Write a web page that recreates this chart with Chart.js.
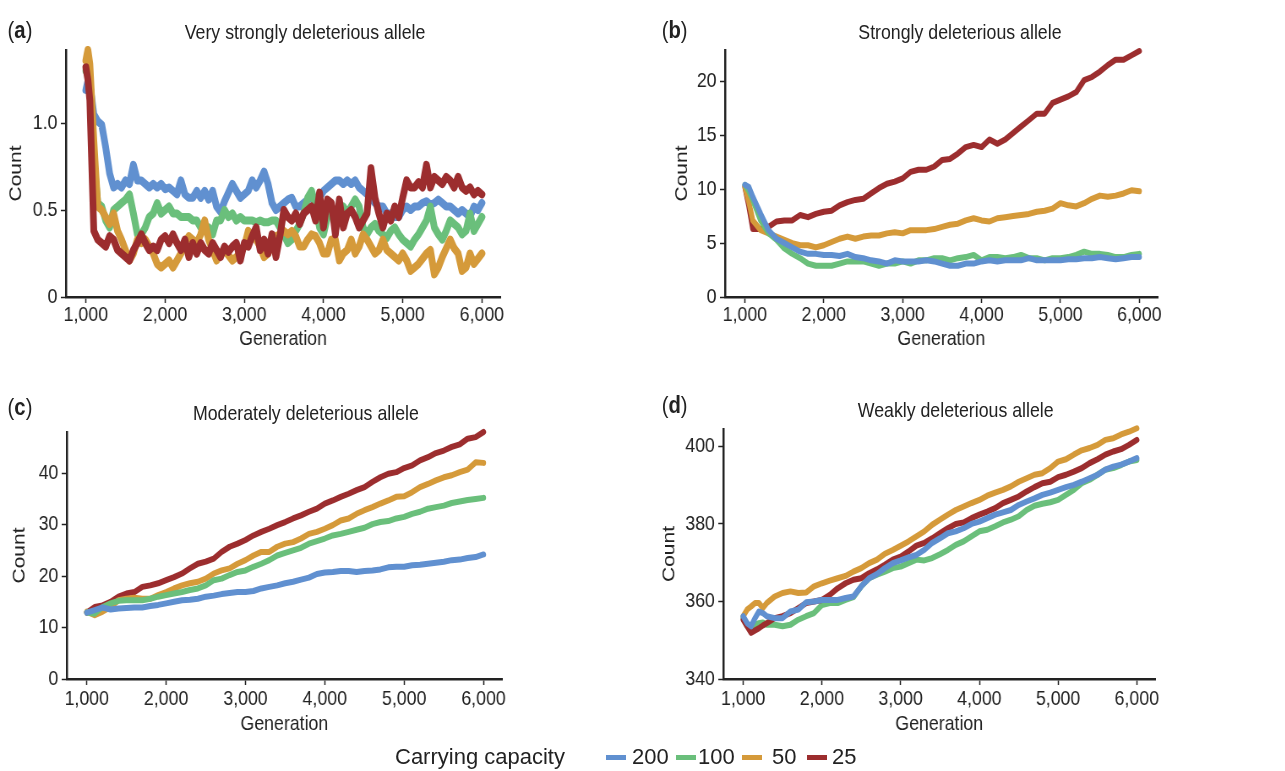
<!DOCTYPE html>
<html>
<head>
<meta charset="utf-8">
<script src="https://cdn.jsdelivr.net/npm/chart.js@4.4.1/dist/chart.umd.min.js"></script>
<style>
  body { margin:0; background:#fff; width:1285px; height:771px; position:relative; overflow:hidden; color:#222;
         font-family:'Liberation Sans',Arial,sans-serif; }
  /* the published figure is squeezed horizontally; reproduce that with one transform */
  .fig { position:absolute; left:0; top:0; width:1521px; height:771px; transform:scaleX(0.845); transform-origin:0 0; }
  .panel { position:absolute; }
  .title { position:absolute; font-size:21px; line-height:1; white-space:nowrap; transform:translate(-50%,-50%); }
  .tag { position:absolute; font-size:24px; line-height:1; transform:translateY(-50%); }
  .tag b { font-weight:bold; }
  .lg { position:absolute; font-size:22px; line-height:1; top:757px; transform:translateY(-50%); white-space:nowrap; }
  .sw { position:absolute; top:755px; height:5px; width:20px; }
</style>
</head>
<body>
<div class="fig">
  <div class="tag" style="left:9px;top:30px">(<b>a</b>)</div>
  <div class="tag" style="left:783px;top:30px">(<b>b</b>)</div>
  <div class="tag" style="left:9px;top:407px">(<b>c</b>)</div>
  <div class="tag" style="left:783px;top:405px">(<b>d</b>)</div>
  <div class="title" style="left:361px;top:31px">Very strongly deleterious allele</div>
  <div class="title" style="left:1136px;top:31px">Strongly deleterious allele</div>
  <div class="title" style="left:362px;top:412px">Moderately deleterious allele</div>
  <div class="title" style="left:1131px;top:409px">Weakly deleterious allele</div>

  <div class="panel" style="left:3px;top:30px;width:619px;height:326px"><canvas id="pa"></canvas></div>
  <div class="panel" style="left:791px;top:30px;width:609px;height:326px"><canvas id="pb"></canvas></div>
  <div class="panel" style="left:7px;top:412px;width:617px;height:329px"><canvas id="pc"></canvas></div>
  <div class="panel" style="left:776px;top:409px;width:621px;height:332px"><canvas id="pd"></canvas></div>
</div>

<div id="legend"></div>

<script>
// ---- data ----
const capacities = ['200', '100', '50', '25'];
const colors = ['#6090d0', '#6abf7b', '#d59a3a', '#9c2d2e'];
const genTicks = [1000, 2000, 3000, 4000, 5000, 6000];

// (a) very strongly deleterious
const genA = [1000,1025,1050,1100,1150,1200,1250,1300,1350,1400,1450,1500,1550,1600,1650,1700,1750,1800,1850,1900,1950,
  2000,2050,2100,2150,2200,2250,2300,2350,2400,2450,2500,2550,2600,2650,2700,2750,2800,2850,2900,2950,
  3000,3050,3100,3150,3200,3250,3300,3350,3400,3450,3500,3550,3600,3650,3700,3750,3800,3850,3900,3950,
  4000,4050,4100,4150,4200,4250,4300,4350,4400,4450,4500,4550,4600,4650,4700,4750,4800,4850,4900,4950,
  5000,5050,5100,5150,5200,5250,5300,5350,5400,5450,5500,5550,5600,5650,5700,5750,5800,5850,5900,5950,6000];
const a200 = [1.19,1.24,1.23,1.05,1.01,0.99,0.86,0.71,0.63,0.65,0.63,0.67,0.65,0.76,0.67,0.67,0.65,0.63,0.65,0.63,0.65,
  0.62,0.63,0.61,0.59,0.67,0.59,0.57,0.57,0.61,0.57,0.61,0.56,0.61,0.52,0.49,0.55,0.60,0.65,0.61,0.57,
  0.59,0.61,0.67,0.63,0.67,0.72,0.65,0.54,0.50,0.52,0.54,0.56,0.57,0.52,0.52,0.54,0.56,0.57,0.57,0.57,
  0.61,0.63,0.65,0.67,0.67,0.65,0.67,0.65,0.67,0.63,0.61,0.59,0.57,0.54,0.52,0.52,0.48,0.48,0.46,0.46,
  0.50,0.52,0.50,0.52,0.52,0.54,0.55,0.53,0.54,0.56,0.54,0.52,0.52,0.50,0.48,0.50,0.48,0.46,0.52,0.50,0.54];
const a100 = [1.30,1.30,1.20,0.80,0.54,0.52,0.44,0.40,0.50,0.52,0.54,0.56,0.59,0.48,0.36,0.36,0.40,0.46,0.48,0.54,0.48,
  0.50,0.52,0.48,0.48,0.46,0.46,0.46,0.44,0.44,0.40,0.38,0.40,0.36,0.44,0.44,0.50,0.46,0.48,0.44,0.46,
  0.44,0.44,0.44,0.43,0.44,0.43,0.43,0.44,0.44,0.40,0.36,0.31,0.33,0.38,0.42,0.48,0.57,0.61,0.52,0.40,
  0.36,0.46,0.50,0.46,0.48,0.52,0.48,0.52,0.56,0.52,0.40,0.36,0.40,0.42,0.38,0.36,0.34,0.38,0.40,0.36,
  0.33,0.31,0.29,0.33,0.36,0.40,0.44,0.52,0.40,0.36,0.33,0.38,0.44,0.42,0.40,0.36,0.38,0.48,0.38,0.42,0.46];
const a50 = [1.36,1.42,1.34,0.90,0.52,0.50,0.46,0.42,0.48,0.38,0.33,0.27,0.21,0.25,0.33,0.31,0.33,0.29,0.25,0.19,0.17,
  0.19,0.21,0.17,0.21,0.25,0.31,0.35,0.33,0.31,0.36,0.44,0.33,0.27,0.21,0.25,0.27,0.24,0.21,0.23,0.25,
  0.29,0.38,0.35,0.33,0.29,0.23,0.25,0.31,0.35,0.36,0.38,0.36,0.38,0.35,0.29,0.29,0.33,0.36,0.35,0.31,
  0.25,0.25,0.33,0.33,0.21,0.25,0.27,0.33,0.25,0.29,0.36,0.33,0.29,0.25,0.27,0.33,0.27,0.25,0.23,0.21,
  0.25,0.21,0.15,0.17,0.19,0.22,0.25,0.27,0.13,0.17,0.23,0.28,0.33,0.28,0.25,0.15,0.17,0.25,0.19,0.22,0.25];
const a25 = [1.32,1.25,1.13,0.38,0.33,0.31,0.29,0.35,0.33,0.27,0.25,0.23,0.21,0.27,0.31,0.36,0.31,0.27,0.29,0.27,0.33,
  0.35,0.31,0.36,0.31,0.27,0.33,0.23,0.31,0.25,0.31,0.27,0.25,0.31,0.27,0.23,0.29,0.26,0.29,0.31,0.21,
  0.31,0.29,0.35,0.40,0.27,0.33,0.25,0.36,0.23,0.35,0.50,0.46,0.44,0.48,0.42,0.48,0.50,0.52,0.44,0.60,
  0.40,0.56,0.54,0.36,0.56,0.40,0.48,0.50,0.46,0.40,0.44,0.48,0.74,0.57,0.48,0.40,0.48,0.44,0.52,0.46,
  0.57,0.67,0.63,0.63,0.66,0.63,0.76,0.63,0.69,0.67,0.65,0.69,0.67,0.63,0.69,0.63,0.61,0.63,0.59,0.61,0.59];

// (b) strongly deleterious
const genB = [1000,1050,1100,1200,1300,1400,1500,1600,1700,1800,1900,2000,2100,2200,2300,2400,2500,2600,2700,2800,2900,
  3000,3100,3200,3300,3400,3500,3600,3700,3800,3900,4000,4100,4200,4300,4400,4500,4600,4700,4800,4900,
  5000,5100,5200,5300,5400,5500,5600,5700,5800,5900,6000];
const b200 = [10.4,10.2,9.3,7.7,6.2,5.4,5.0,4.6,4.2,4.0,4.0,3.9,3.9,3.8,4.0,3.7,3.6,3.4,3.3,3.1,3.4,
  3.3,3.3,3.3,3.4,3.3,3.1,2.9,2.9,3.1,3.1,3.3,3.4,3.3,3.4,3.4,3.4,3.6,3.4,3.4,3.4,
  3.4,3.5,3.5,3.6,3.6,3.7,3.6,3.5,3.6,3.7,3.7];
const b100 = [10.4,9.8,9.0,7.1,5.9,5.3,4.5,4.0,3.6,3.1,2.9,2.9,2.9,3.1,3.3,3.3,3.3,3.1,2.9,3.1,3.1,
  3.3,3.1,3.4,3.4,3.6,3.6,3.4,3.6,3.7,3.9,3.4,3.7,3.7,3.6,3.7,3.9,3.6,3.6,3.4,3.6,
  3.6,3.7,3.9,4.2,4.0,4.0,3.9,3.7,3.7,3.9,4.0];
const b50 = [10.2,8.8,7.1,6.2,5.9,5.6,5.3,5.0,4.8,4.8,4.6,4.8,5.1,5.4,5.6,5.4,5.6,5.7,5.7,5.9,6.0,
  5.9,6.2,6.2,6.2,6.3,6.5,6.7,6.8,7.1,7.3,7.1,7.0,7.3,7.4,7.5,7.6,7.7,7.9,8.0,8.2,
  8.7,8.5,8.4,8.7,9.1,9.4,9.3,9.4,9.6,9.9,9.8];
const b25 = [10.2,8.4,6.3,6.3,6.5,7.0,7.1,7.1,7.6,7.4,7.7,7.9,8.0,8.5,8.8,9.0,9.1,9.6,10.1,10.5,10.7,
  11.0,11.6,11.8,11.8,12.1,12.7,12.8,13.3,13.9,14.1,13.9,14.6,14.2,14.6,15.2,15.8,16.4,17.0,17.0,18.0,
  18.3,18.6,19.0,20.1,20.4,20.9,21.5,22.0,22.0,22.4,22.8];

// (c) moderately deleterious
const genC = [1000,1100,1200,1300,1400,1500,1600,1700,1800,1900,2000,2100,2200,2300,2400,2500,2600,2700,2800,2900,
  3000,3100,3200,3300,3400,3500,3600,3700,3800,3900,4000,4100,4200,4300,4400,4500,4600,4700,4800,4900,
  5000,5100,5200,5300,5400,5500,5600,5700,5800,5900,6000];
const c200 = [12.9,13.4,13.9,13.5,13.7,13.8,13.9,13.9,14.2,14.4,14.7,15.0,15.3,15.4,15.6,16.0,16.2,16.5,16.7,16.9,
  16.9,17.1,17.6,17.9,18.2,18.6,18.9,19.3,19.7,20.4,20.7,20.8,21.0,21.0,20.8,21.0,21.1,21.3,21.7,21.8,
  21.8,22.1,22.2,22.4,22.6,22.8,23.1,23.2,23.5,23.7,24.2];
const c100 = [12.9,12.7,14.0,14.7,15.2,15.3,15.3,15.3,15.6,16.0,16.3,16.6,16.9,17.3,17.6,18.2,19.2,19.5,20.2,20.8,
  21.1,21.8,22.4,23.1,24.0,24.5,25.0,25.5,26.3,26.8,27.3,27.9,28.2,28.6,29.0,29.4,30.1,30.5,30.7,31.2,
  31.5,32.1,32.5,33.1,33.4,33.7,34.2,34.5,34.8,35.0,35.2];
const c50 = [13.1,12.4,13.1,14.0,15.3,15.6,15.8,15.6,15.6,16.3,16.9,17.6,18.2,18.6,18.9,19.5,20.5,21.1,21.5,22.4,
  23.1,24.0,24.7,24.7,25.7,26.3,26.6,27.3,28.2,28.6,29.2,29.9,30.8,31.2,32.1,32.8,33.4,34.1,34.7,35.4,
  35.5,36.3,37.3,37.9,38.6,39.2,39.6,40.2,40.7,42.1,42.0];
const c25 = [12.9,14.0,14.3,15.0,16.0,16.6,16.9,17.9,18.2,18.6,19.2,19.8,20.5,21.5,22.4,22.8,23.4,24.7,25.7,26.3,
  27.0,27.9,28.6,29.2,29.9,30.5,31.2,31.8,32.5,33.1,34.1,34.7,35.4,36.0,36.7,37.3,38.3,39.2,39.9,40.2,
  41.0,41.5,42.5,43.1,43.9,44.4,45.1,45.6,46.7,47.0,48.0];

// (d) weakly deleterious
const genD = [1000,1050,1100,1150,1200,1250,1300,1400,1500,1600,1700,1800,1900,2000,2100,2200,2300,2400,2500,2600,2700,2800,2900,
  3000,3100,3200,3300,3400,3500,3600,3700,3800,3900,4000,4100,4200,4300,4400,4500,4600,4700,4800,4900,
  5000,5100,5200,5300,5400,5500,5600,5700,5800,5900,6000];
const d200 = [356.2,354.4,353.6,355.7,357.4,357.0,356.2,355.7,355.7,357.4,357.9,359.8,360.0,360.4,360.4,360.4,360.9,361.3,363.9,366.0,367.1,368.6,369.9,
  370.6,371.4,372.0,373.3,375.1,376.3,377.6,378.1,378.9,380.0,380.6,381.5,382.4,383.0,383.6,384.9,385.8,386.6,387.5,388.1,
  388.8,389.5,390.1,390.9,391.8,392.7,394.0,394.8,395.3,396.1,397.0];
const d100 = [355.7,353.6,352.3,354.0,354.4,354.6,354.0,354.0,353.6,354.0,355.3,356.2,357.0,359.1,359.6,359.6,360.4,361.1,363.9,366.0,366.9,367.7,368.6,
  369.0,369.9,370.8,370.6,371.2,372.2,373.3,374.6,375.5,376.8,378.1,378.5,379.4,380.4,381.1,382.0,383.6,384.7,385.2,385.6,
  386.2,387.5,388.8,390.5,391.4,392.7,394.0,394.4,395.2,396.1,396.5];
const d50 = [356.2,357.9,358.7,359.6,359.6,358.3,359.6,361.3,362.2,362.6,362.2,362.3,363.9,364.7,365.4,366.0,366.6,367.7,368.6,369.9,370.8,372.3,373.3,
  374.4,375.5,376.8,378.1,379.8,381.1,382.4,383.6,384.5,385.4,386.2,387.3,388.1,388.8,389.7,390.9,391.8,392.7,393.1,394.4,
  396.1,396.7,397.9,399.0,399.6,400.4,401.7,402.1,403.1,403.8,404.7];
const d25 = [355.3,353.6,351.9,352.5,353.1,353.8,354.4,355.7,356.2,357.0,358.3,359.6,360.0,360.4,361.7,363.4,364.7,365.6,366.0,367.3,368.3,369.5,370.8,
  371.6,372.9,374.4,375.1,376.3,377.6,378.9,380.0,380.4,381.5,382.4,383.2,384.1,385.4,386.2,387.1,388.4,389.5,390.5,390.9,
  392.1,392.7,393.5,394.4,395.7,396.7,397.9,398.7,399.3,400.4,401.7];

const yTicksA = [0, 0.5, 1.0];
const yTicksB = [0, 5, 10, 15, 20];
const yTicksC = [0, 10, 20, 30, 40];
const yTicksD = [340, 360, 380, 400];

// ---- drawing ----
const INK = '#222';
Chart.defaults.font.family = "'Liberation Sans', Arial, sans-serif";
Chart.defaults.color = INK;

function buildPanel(id, p) {
  const datasets = p.series.map((vals, i) => ({
    label: capacities[i],
    data: p.gens.map((g, j) => ({ x: g, y: vals[j] })),
    borderColor: colors[i],
    borderWidth: p.lineW,
    borderJoinStyle: 'round',
    borderCapStyle: 'round',
    pointRadius: 0,
    tension: 0,
    clip: false,
    order: p.order[i]
  }));

  const axisBase = {
    grid: { display: true, drawOnChartArea: false, drawTicks: true, tickLength: 6, tickColor: INK, tickWidth: 1.5 },
    border: { display: true, color: INK, width: 2.5 }
  };

  return new Chart(document.getElementById(id), {
    type: 'line',
    data: { datasets },
    options: {
      responsive: true, maintainAspectRatio: false, animation: false,
      layout: { padding: { left: 0, right: 30, top: 20, bottom: 0 } },
      plugins: { legend: { display: false }, tooltip: { enabled: false } },
      scales: {
        x: {
          ...axisBase, type: 'linear', min: 748, max: 6232,
          afterBuildTicks: s => { s.ticks = genTicks.map(v => ({ value: v })); },
          afterFit: s => { s.height = p.xH; },
          ticks: { font: { size: 21 }, padding: p.tickPad, maxRotation: 0, autoSkip: false,
                   callback: v => v.toLocaleString('en-US') },
          title: { display: true, text: 'Generation', font: { size: 21 }, padding: { top: 4, bottom: 4 } }
        },
        y: {
          ...axisBase, type: 'linear', min: p.yMin, max: p.yMax,
          afterBuildTicks: s => { s.ticks = p.yTicks.map(v => ({ value: v })); },
          afterFit: s => { s.width = p.yW; },
          ticks: { font: { size: 21 }, padding: 4, callback: p.fmt },
          title: { display: true, text: 'Count', font: { size: 21 }, padding: { top: 4, bottom: 4 } }
        }
      }
    }
  });
}

const intFmt = v => String(v);
buildPanel('pa', { gens: genA, series: [a200, a100, a50, a25], order: [3, 2, 1, 0], lineW: 8,
  yMin: 0, yMax: 1.42, yTicks: yTicksA, yW: 75, xH: 59, tickPad: 0, fmt: v => v === 0 ? '0' : v.toFixed(1) });
buildPanel('pb', { gens: genB, series: [b200, b100, b50, b25], order: [0, 1, 2, 3], lineW: 6,
  yMin: 0, yMax: 22.9, yTicks: yTicksB, yW: 67, xH: 59, tickPad: 0, fmt: intFmt });
buildPanel('pc', { gens: genC, series: [c200, c100, c50, c25], order: [0, 1, 2, 3], lineW: 6,
  yMin: 0, yMax: 48, yTicks: yTicksC, yW: 72, xH: 62, tickPad: 2, fmt: intFmt });
buildPanel('pd', { gens: genD, series: [d200, d100, d50, d25], order: [0, 2, 3, 1], lineW: 6,
  yMin: 340, yMax: 404.5, yTicks: yTicksD, yW: 80, xH: 62, tickPad: 2, fmt: intFmt });

// shared legend (not squeezed in the original)
const legend = document.getElementById('legend');
const swatchX = [606, 676, 742, 807];
const labelX = [632, 698, 772, 832];
legend.innerHTML = '<div class="lg" style="left:395px">Carrying capacity</div>' +
  capacities.map((c, i) =>
    `<div class="sw" style="left:${swatchX[i]}px;background:${colors[i]}"></div>` +
    `<div class="lg" style="left:${labelX[i]}px">${c}</div>`).join('');
</script>
</body>
</html>
